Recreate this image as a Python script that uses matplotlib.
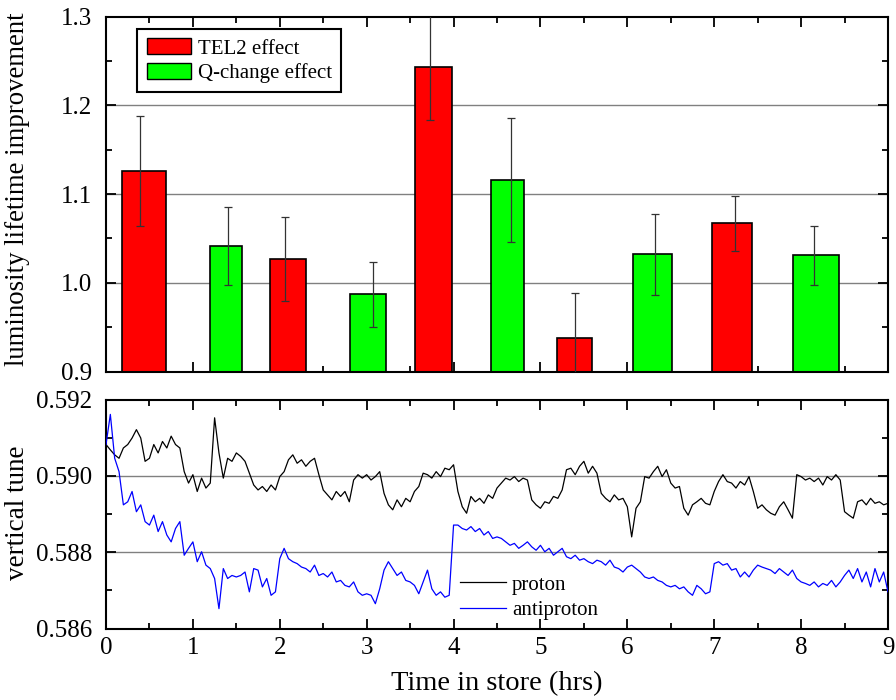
import numpy as np
import matplotlib
matplotlib.use("Agg")
import matplotlib.pyplot as plt
from matplotlib.patches import Patch
from matplotlib.lines import Line2D
from matplotlib.ticker import MultipleLocator, FormatStrFormatter

plt.rcParams['font.family'] = ['Liberation Serif', 'DejaVu Serif']

# ---------------- data: top panel (bars) ----------------
tel2_x = [0.44, 2.10, 3.77, 5.39, 7.21]
tel2_w = [0.51, 0.415, 0.42, 0.41, 0.46]
tel2_val = [1.126, 1.027, 1.243, 0.938, 1.067]
tel2_err = [0.062, 0.047, 0.059, 0.051, 0.031]
tel2_errx = [0.39, 2.065, 3.73, 5.395, 7.234]

qch_x = [1.38, 3.02, 4.62, 6.29, 8.17]
qch_w = [0.36, 0.415, 0.37, 0.45, 0.53]
qch_val = [1.042, 0.987, 1.116, 1.032, 1.031]
qch_err = [0.044, 0.037, 0.070, 0.046, 0.033]
qch_errx = [1.40, 3.07, 4.66, 6.315, 8.146]

# ---------------- data: bottom panel (tunes, sampled every 0.05 h) ----------------
t_start = 0.0
t_step = 0.05
proton = [
    0.59082, 0.59068, 0.59055, 0.59046, 0.59073, 0.59082, 0.59099, 0.59121, 0.59099, 0.59038,
    0.59046, 0.59082, 0.59060, 0.59090, 0.59073, 0.59104, 0.59082, 0.59073, 0.59011, 0.58981,
    0.59003, 0.58959, 0.58994, 0.58968, 0.58981, 0.59152, 0.59060, 0.58994, 0.59046, 0.59038,
    0.59060, 0.59051, 0.59038, 0.59007, 0.58976, 0.58963, 0.58972, 0.58959, 0.58976, 0.58963,
    0.58998, 0.59011, 0.59042, 0.59055, 0.59033, 0.59042, 0.59025, 0.59038, 0.59046, 0.59003,
    0.58963, 0.58950, 0.58937, 0.58959, 0.58946, 0.58959, 0.58932, 0.58989, 0.59003, 0.58994,
    0.59003, 0.58989, 0.58998, 0.59011, 0.58954, 0.58924, 0.58911, 0.58937, 0.58919, 0.58941,
    0.58932, 0.58959, 0.58972, 0.59007, 0.59003, 0.58994, 0.59011, 0.58998, 0.59020, 0.59016,
    0.59029, 0.58959, 0.58919, 0.58902, 0.58946, 0.58932, 0.58941, 0.58928, 0.58950, 0.58941,
    0.58968, 0.58981, 0.58994, 0.58989, 0.58998, 0.58985, 0.58994, 0.58989, 0.58937, 0.58924,
    0.58915, 0.58932, 0.58928, 0.58946, 0.58941, 0.58963, 0.59016, 0.59020, 0.59003, 0.59025,
    0.59038, 0.59007, 0.59025, 0.59007, 0.58954, 0.58941, 0.58932, 0.58950, 0.58937, 0.58941,
    0.58919, 0.58840, 0.58915, 0.58932, 0.58998, 0.58994, 0.59011, 0.59025, 0.58998, 0.59016,
    0.58981, 0.58968, 0.58972, 0.58915, 0.58897, 0.58924, 0.58932, 0.58941, 0.58928, 0.58924,
    0.58959, 0.58985, 0.59003, 0.58985, 0.58981, 0.58968, 0.58985, 0.58976, 0.58998, 0.58959,
    0.58915, 0.58924, 0.58911, 0.58902, 0.58897, 0.58919, 0.58932, 0.58911, 0.58889, 0.59003,
    0.58998, 0.58989, 0.58994, 0.58985, 0.58994, 0.58976, 0.58998, 0.58989, 0.59003, 0.58989,
    0.58906, 0.58897, 0.58889, 0.58932, 0.58937, 0.58924, 0.58941, 0.58928, 0.58932, 0.58924,
    0.58928,
]
antiproton = [
    0.59082, 0.59161, 0.59046, 0.59011, 0.58924, 0.58932, 0.58959, 0.58906, 0.58924, 0.58880,
    0.58871, 0.58897, 0.58854, 0.58880, 0.58845, 0.58827, 0.58862, 0.58880, 0.58792, 0.58810,
    0.58827, 0.58775, 0.58801, 0.58766, 0.58757, 0.58731, 0.58652, 0.58757, 0.58731, 0.58739,
    0.58735, 0.58739, 0.58748, 0.58696, 0.58757, 0.58753, 0.58709, 0.58731, 0.58687, 0.58696,
    0.58783, 0.58810, 0.58783, 0.58775, 0.58770, 0.58761, 0.58757, 0.58748, 0.58766, 0.58739,
    0.58744, 0.58735, 0.58748, 0.58722, 0.58726, 0.58713, 0.58709, 0.58722, 0.58696, 0.58687,
    0.58691, 0.58687, 0.58665, 0.58704, 0.58753, 0.58775, 0.58757, 0.58739, 0.58748, 0.58726,
    0.58722, 0.58713, 0.58691, 0.58722, 0.58753, 0.58704, 0.58687, 0.58696, 0.58682, 0.58687,
    0.58871, 0.58871, 0.58862, 0.58858, 0.58867, 0.58854, 0.58862, 0.58845, 0.58854, 0.58836,
    0.58840, 0.58836, 0.58827, 0.58818, 0.58823, 0.58810, 0.58818, 0.58827, 0.58814, 0.58805,
    0.58818, 0.58801, 0.58810, 0.58792, 0.58801, 0.58810, 0.58788, 0.58783, 0.58792, 0.58779,
    0.58783, 0.58775, 0.58770, 0.58779, 0.58775, 0.58766, 0.58779, 0.58761, 0.58757, 0.58748,
    0.58761, 0.58766, 0.58757, 0.58748, 0.58735, 0.58731, 0.58735, 0.58726, 0.58722, 0.58713,
    0.58709, 0.58713, 0.58704, 0.58709, 0.58696, 0.58687, 0.58713, 0.58704, 0.58691, 0.58696,
    0.58770, 0.58775, 0.58766, 0.58770, 0.58753, 0.58757, 0.58735, 0.58748, 0.58735, 0.58753,
    0.58766, 0.58761, 0.58757, 0.58753, 0.58744, 0.58757, 0.58748, 0.58739, 0.58753, 0.58731,
    0.58722, 0.58718, 0.58713, 0.58722, 0.58709, 0.58718, 0.58713, 0.58726, 0.58709, 0.58722,
    0.58739, 0.58753, 0.58731, 0.58757, 0.58722, 0.58748, 0.58709, 0.58757, 0.58722, 0.58748,
    0.58696,
]
t = t_start + t_step * np.arange(len(proton))

x_ticks = [0, 1, 2, 3, 4, 5, 6, 7, 8, 9]
top_yticks = [0.9, 1.0, 1.1, 1.2, 1.3]
bot_yticks = [0.586, 0.588, 0.590, 0.592]

# ---------------- figure ----------------
fig = plt.figure(figsize=(8.96, 7.0), dpi=100)
L, W = 106 / 896, 782 / 896
ax1 = fig.add_axes([L, 1 - 371.5 / 700, W, (371.5 - 16.7) / 700])
ax2 = fig.add_axes([L, 1 - 628.5 / 700, W, (628.5 - 399.5) / 700])

RED = '#ff0000'
GREEN = '#00ff00'

ax1.bar(tel2_x, tel2_val, width=tel2_w, bottom=0, color=RED, edgecolor='black', linewidth=1.2, zorder=2)
ax1.bar(qch_x, qch_val, width=qch_w, bottom=0, color=GREEN, edgecolor='black', linewidth=1.2, zorder=2)
ax1.errorbar(tel2_errx, tel2_val, yerr=tel2_err, fmt='none', ecolor='#333333', elinewidth=0.9,
             capsize=3, capthick=0.9, zorder=3)
ax1.errorbar(qch_errx, qch_val, yerr=qch_err, fmt='none', ecolor='#333333', elinewidth=0.9,
             capsize=3, capthick=0.9, zorder=3)

ax1.set_xlim(0, 9)
ax1.set_ylim(0.9, 1.3)
ax1.set_yticks(top_yticks)
ax1.yaxis.set_major_formatter(FormatStrFormatter('%.1f'))
ax1.yaxis.set_minor_locator(MultipleLocator(0.05))
ax1.set_xticks(x_ticks)
ax1.xaxis.set_minor_locator(MultipleLocator(0.5))
ax1.tick_params(labelbottom=False)
for yv in [1.0, 1.1, 1.2]:
    ax1.axhline(yv, color='#808080', linewidth=1.0, zorder=1)

ax2.plot(t, proton, color='black', linewidth=0.9, label='proton', zorder=3)
ax2.plot(t, antiproton, color='#0000ff', linewidth=0.9, label='antiproton', zorder=3)
ax2.set_xlim(0, 9)
ax2.set_ylim(0.586, 0.592)
ax2.set_yticks(bot_yticks)
ax2.yaxis.set_major_formatter(FormatStrFormatter('%.3f'))
ax2.yaxis.set_minor_locator(MultipleLocator(0.001))
ax2.set_xticks(x_ticks)
ax2.xaxis.set_minor_locator(MultipleLocator(0.5))
for yv in [0.588, 0.590]:
    ax2.axhline(yv, color='#808080', linewidth=1.0, zorder=1)

for ax in (ax1, ax2):
    for s in ax.spines.values():
        s.set_linewidth(1.5)
    ax.tick_params(which='both', direction='in', top=True, right=True, width=1.3,
                   labelsize=18)
    ax.tick_params(axis='y', which='both', pad=10)
    ax.tick_params(axis='x', which='both', pad=6)
    ax.tick_params(which='major', length=7)
    ax.tick_params(which='minor', length=4)

ax2.set_xlabel('Time in store (hrs)', fontsize=20.5, labelpad=9)
fig.text(18 / 896, 1 - 189 / 700, 'luminosity lifetime improvement', rotation=90,
         ha='center', va='center', fontsize=19.3)
fig.text(18 / 896, 1 - 513 / 700, 'vertical tune', rotation=90,
         ha='center', va='center', fontsize=19.5)

h1 = [Patch(facecolor=RED, edgecolor='black', linewidth=1.0),
      Patch(facecolor=GREEN, edgecolor='black', linewidth=1.0)]
leg1 = ax1.legend(h1, ['TEL2 effect', 'Q-change effect'], loc='upper left',
                  bbox_to_anchor=(137.3 / 896, 1 - 29 / 700), bbox_transform=fig.transFigure,
                  fontsize=15, frameon=True, fancybox=False, borderpad=0.45,
                  borderaxespad=0, handlelength=2.15, handleheight=0.8,
                  handletextpad=0.3, labelspacing=0.2)
leg1.get_frame().set_edgecolor('black')
leg1.get_frame().set_linewidth(1.5)
leg1.get_frame().set_alpha(None)
leg1.get_frame().set_facecolor('white')

h2 = [Line2D([], [], color='black', linewidth=0.9), Line2D([], [], color='#0000ff', linewidth=0.9)]
ax2.legend(h2, ['proton', 'antiproton'], loc='upper left',
           bbox_to_anchor=(460 / 896, 1 - 575 / 700), bbox_transform=fig.transFigure,
           fontsize=15, frameon=False, borderpad=0, borderaxespad=0,
           handlelength=2.2, handletextpad=0.3, labelspacing=0.3)

fig.savefig('out.png', dpi=100)
